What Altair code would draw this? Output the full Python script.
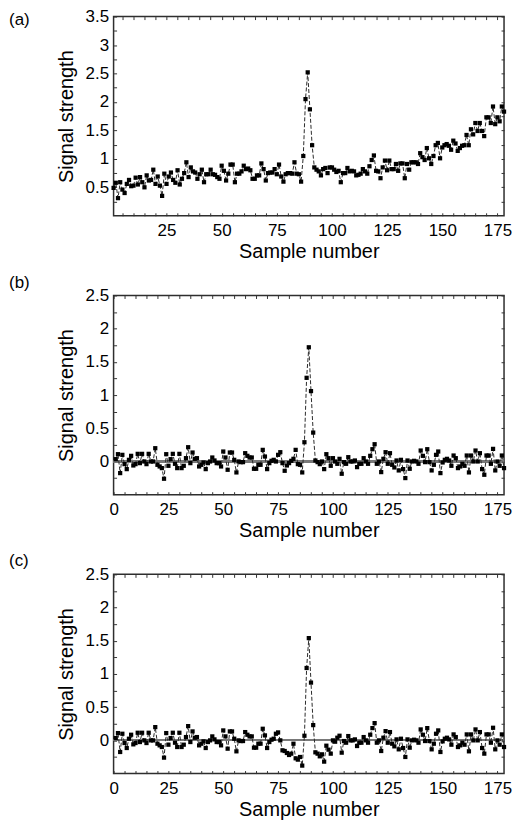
import altair as alt
import pandas as pd

# ---------------- data ----------------
sample = list(range(1, 179))

signal_a = [
    0.49, 0.58, 0.31, 0.59, 0.46, 0.40, 0.56, 0.63, 0.52, 0.53,
    0.67, 0.55, 0.68, 0.59, 0.50, 0.71, 0.62, 0.63, 0.81, 0.56,
    0.69, 0.53, 0.35, 0.74, 0.56, 0.69, 0.76, 0.63, 0.58, 0.80,
    0.55, 0.65, 0.75, 0.94, 0.68, 0.85, 0.78, 0.76, 0.65, 0.73,
    0.81, 0.59, 0.73, 0.73, 0.81, 0.73, 0.72, 0.68, 0.65, 0.88,
    0.79, 0.62, 0.74, 0.90, 0.90, 0.59, 0.74, 0.74, 0.78, 0.88,
    0.82, 0.83, 0.80, 0.65, 0.65, 0.71, 0.71, 0.92, 0.82, 0.62,
    0.75, 0.76, 0.76, 0.82, 0.73, 0.90, 0.69, 0.60, 0.73, 0.75,
    0.75, 0.74, 0.94, 0.74, 0.73, 0.60, 1.05, 2.05, 2.52, 1.87,
    1.24, 0.85, 0.81, 0.78, 0.71, 0.82, 0.84, 0.75, 0.85, 0.85,
    0.81, 0.77, 0.79, 0.59, 0.75, 0.75, 0.84, 0.78, 0.79, 0.78,
    0.71, 0.72, 0.74, 0.82, 0.78, 0.74, 0.87, 0.98, 1.06, 0.79,
    0.78, 0.66, 0.85, 0.97, 0.80, 0.97, 0.82, 0.82, 0.91, 0.79,
    0.92, 0.92, 0.66, 0.91, 0.81, 0.94, 0.94, 0.94, 0.91, 1.10,
    1.03, 0.98, 1.19, 1.01, 0.91, 1.05, 1.24, 1.28, 1.01, 1.20,
    1.24, 1.26, 1.23, 1.16, 1.32, 1.27, 1.14, 1.19, 1.23, 1.24,
    1.42, 1.24, 1.52, 1.43, 1.63, 1.49, 1.63, 1.49, 1.40, 1.73,
    1.73, 1.63, 1.92, 1.61, 1.73, 1.66, 1.92, 1.83,
]

signal_b = [
    0.035, 0.11, -0.175, 0.10, -0.04, -0.115, 0.025, 0.085, -0.06, -0.04,
    0.115, -0.025, 0.115, 0.0, -0.04, 0.115, 0.0, 0.0, 0.20, -0.05,
    -0.075, -0.10, -0.26, 0.11, -0.065, 0.035, 0.115, -0.035, -0.10, 0.115,
    -0.10, -0.065, 0.05, 0.215, -0.025, 0.135, 0.04, 0.05, -0.075, -0.05,
    -0.015, -0.115, -0.025, 0.0, 0.06, 0.015, -0.025, -0.025, -0.075, 0.15,
    0.06, -0.125, 0.135, 0.135, 0.025, -0.165, 0.0, -0.01, -0.01, 0.125,
    0.085, 0.06, 0.06, -0.11, -0.11, -0.05, -0.05, 0.175, 0.075, -0.115,
    -0.025, 0.01, 0.025, 0.0, 0.10, 0.14, -0.025, -0.14, -0.06, -0.025,
    0.01, 0.04, 0.175, -0.04, -0.05, -0.165, 0.29, 1.26, 1.72, 1.06,
    0.435, 0.015, -0.01, -0.04, 0.0, -0.115, 0.11, 0.05, -0.065, 0.05,
    0.0, -0.035, 0.04, -0.185, -0.01, -0.035, 0.065, 0.0, 0.0, 0.015,
    -0.085, -0.035, -0.035, 0.05, 0.0, -0.035, 0.085, 0.185, 0.26, -0.035,
    0.0, -0.16, 0.04, 0.14, -0.035, 0.125, -0.05, -0.09, 0.015, -0.135,
    0.025, -0.115, -0.25, 0.015, -0.11, 0.0, 0.01, 0.0, -0.035, 0.165,
    0.085, -0.01, 0.185, -0.01, -0.135, -0.05, 0.10, 0.15, -0.175, -0.015,
    0.025, 0.04, 0.015, -0.065, 0.09, 0.05, -0.10, -0.075, -0.035, -0.065,
    0.09, -0.165, 0.09, 0.0, 0.165, 0.0, 0.125, -0.115, -0.20, 0.09,
    0.09, -0.035, 0.19, -0.135, 0.0, -0.065, 0.09, -0.10,
]

signal_c = [
    0.035, 0.11, -0.175, 0.10, -0.04, -0.115, 0.025, 0.085, -0.06, -0.04,
    0.115, -0.025, 0.115, 0.0, -0.04, 0.115, 0.0, 0.0, 0.20, -0.05,
    -0.075, -0.10, -0.26, 0.11, -0.065, 0.035, 0.115, -0.035, -0.10, 0.115,
    -0.10, -0.065, 0.05, 0.215, -0.025, 0.135, 0.04, 0.05, -0.075, -0.05,
    -0.015, -0.115, -0.025, 0.0, 0.06, 0.015, -0.025, -0.025, -0.075, 0.15,
    0.06, -0.125, 0.135, 0.135, 0.025, -0.165, 0.0, -0.01, -0.01, 0.125,
    0.085, 0.06, 0.06, -0.11, -0.11, -0.05, -0.05, 0.175, 0.075, -0.115,
    -0.025, 0.01, 0.025, 0.10, 0.12, 0.0, -0.15, -0.16, -0.19, -0.22,
    -0.20, -0.05, -0.27, -0.29, -0.25, -0.38, 0.07, 1.09, 1.54, 0.87,
    0.23, -0.18, -0.20, -0.24, -0.21, -0.32, -0.08, -0.14, -0.20, 0.0,
    -0.02, 0.04, 0.07, -0.185, -0.01, -0.035, 0.065, 0.0, 0.0, 0.015,
    -0.085, -0.035, -0.035, 0.05, 0.0, -0.035, 0.085, 0.185, 0.26, -0.035,
    0.0, -0.16, 0.04, 0.14, -0.035, 0.125, -0.05, -0.09, 0.015, -0.135,
    0.025, -0.115, -0.25, 0.015, -0.11, 0.0, 0.01, 0.0, -0.035, 0.165,
    0.085, -0.01, 0.185, -0.01, -0.135, -0.05, 0.10, 0.15, -0.175, -0.015,
    0.025, 0.04, 0.015, -0.065, 0.09, 0.05, -0.10, -0.075, -0.035, -0.065,
    0.09, -0.165, 0.09, 0.0, 0.165, 0.0, 0.125, -0.115, -0.20, 0.09,
    0.09, -0.035, 0.19, -0.135, 0.0, -0.065, 0.09, -0.10,
]

panel_labels = ["(a)", "(b)", "(c)"]
x_ticks_a = [5 * k for k in range(1, 36)]          # 5 ... 175
x_ticks_bc = [5 * k for k in range(0, 36)]         # 0 ... 175
y_ticks_a = [round(0.25 * k, 2) for k in range(1, 15)]    # 0.25 ... 3.5
y_ticks_bc = [round(0.25 * k, 2) for k in range(-1, 11)]  # -0.25 ... 2.5

FONT = "Liberation Sans"
X_LABEL_EXPR = "datum.value % 25 == 0 ? datum.label : ''"
Y_LABEL_EXPR = "abs(datum.value * 2 - round(datum.value * 2)) < 0.001 ? format(datum.value, '~g') : ''"


def panel(values, label, label_y, x_domain, y_domain, x_ticks, y_ticks, zero_line):
    df = pd.DataFrame({"sample": sample, "signal": values})
    xs = alt.Scale(domain=x_domain, nice=False, zero=False)
    ys = alt.Scale(domain=y_domain, nice=False, zero=False)

    bottom_axis = alt.Axis(values=x_ticks, tickSize=3, offset=-3, domain=False,
                           labelExpr=X_LABEL_EXPR, labelOverlap=False, labelFlush=False,
                           labelPadding=7, title="Sample number", titlePadding=3)
    left_axis = alt.Axis(values=y_ticks, tickSize=3, offset=-3, domain=False,
                         labelExpr=Y_LABEL_EXPR, labelOverlap=False, labelFlush=False,
                         labelPadding=5, title="Signal strength", titlePadding=9)
    top_axis = alt.Axis(orient="top", values=x_ticks, tickSize=3, offset=-3,
                        domain=False, labels=False, title=None)
    right_axis = alt.Axis(orient="right", values=y_ticks, tickSize=3, offset=-3,
                          domain=False, labels=False, title=None)

    layers = []
    if zero_line:
        layers.append(
            alt.Chart(df).mark_rule(color="#7a7a7a", strokeWidth=1.3).encode(
                y=alt.YDatum(0, scale=ys, axis=None)
            )
        )
    layers.append(
        alt.Chart(df).mark_line(color="#2b2b2b", strokeWidth=1, strokeDash=[4, 2]).encode(
            x=alt.X("sample:Q", scale=xs, axis=bottom_axis),
            y=alt.Y("signal:Q", scale=ys, axis=left_axis),
        )
    )
    layers.append(
        alt.Chart(df).mark_square(size=18, color="#000000", opacity=1).encode(
            x=alt.X("sample:Q", scale=xs, axis=top_axis),
            y=alt.Y("signal:Q", scale=ys, axis=right_axis),
        )
    )
    layers.append(
        alt.Chart(pd.DataFrame({"panel": [label]})).mark_text(
            align="left", baseline="middle", fontSize=17, font=FONT, color="#000000"
        ).encode(text="panel:N", x=alt.value(-105), y=alt.value(label_y))
    )
    return alt.layer(*layers).resolve_axis(x="independent", y="independent").properties(
        width=392, height=200
    )


pa = panel(signal_a, panel_labels[0], 3, [1, 178], [0, 3.5], x_ticks_a, y_ticks_a, False)
pb = panel(signal_b, panel_labels[1], -13, [0, 178], [-0.5, 2.5], x_ticks_bc, y_ticks_bc, True)
pc = panel(signal_c, panel_labels[2], -13, [0, 178], [-0.5, 2.5], x_ticks_bc, y_ticks_bc, True)

chart = (
    alt.vconcat(pa, pb, pc, spacing=80, bounds="flush")
    .properties(padding={"left": 0, "top": -3, "right": 0, "bottom": 0})
    .configure_view(stroke="#2e2e2e", strokeWidth=1.5)
    .configure_axis(
        labelFont=FONT, titleFont=FONT, labelFontSize=17, titleFontSize=20,
        titleFontWeight="normal", labelColor="#000000", titleColor="#000000",
        tickColor="#333333", tickWidth=1, grid=False,
    )
)

chart.save("out.html", embed_options={"renderer": "svg", "actions": False})
